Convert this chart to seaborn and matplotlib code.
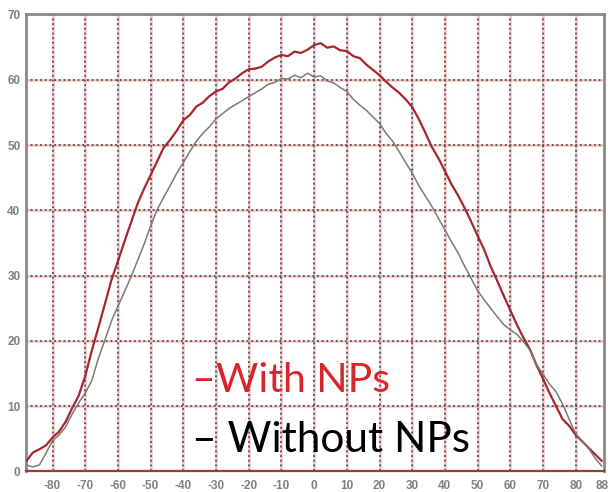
import numpy as np
import pandas as pd
import matplotlib
matplotlib.use("Agg")
import matplotlib.pyplot as plt
import seaborn as sns

angles = list(range(-88, 89, 2))

with_nps = [1.6, 2.9, 3.4, 4.0, 5.2, 6.1, 7.6, 9.7, 11.6, 14.6,
            18.5, 22.0, 25.6, 29.3, 32.2, 35.2, 38.1, 41.0, 43.3, 45.4,
            47.5, 49.6, 50.8, 52.2, 53.8, 54.6, 55.9, 56.5, 57.5, 58.2,
            58.6, 59.6, 60.2, 61.0, 61.6, 61.7, 62.0, 62.8, 63.4, 63.8,
            63.6, 64.3, 64.1, 64.6, 65.3, 65.6, 64.9, 65.1, 64.5, 64.4,
            63.6, 63.3, 62.3, 61.5, 60.7, 59.7, 58.8, 58.0, 57.0, 55.8,
            54.0, 51.9, 49.7, 48.0, 46.0, 44.0, 42.3, 40.4, 38.3, 36.1,
            34.0, 31.4, 29.2, 26.9, 24.7, 22.5, 20.5, 18.7, 16.3, 14.2,
            12.0, 10.0, 8.0, 7.0, 5.6, 4.6, 3.6, 2.6, 1.6]

without_nps = [1.0, 0.7, 1.0, 2.8, 4.7, 5.6, 6.8, 8.8, 10.5, 12.0,
               13.9, 17.3, 20.1, 23.0, 25.3, 27.5, 29.8, 32.3, 34.8, 37.6,
               40.1, 42.0, 43.8, 45.7, 47.3, 49.0, 50.6, 51.8, 52.8, 54.0,
               54.8, 55.6, 56.2, 56.8, 57.4, 58.0, 58.6, 59.3, 59.6, 60.2,
               60.1, 60.7, 60.3, 61.0, 60.4, 60.6, 59.8, 59.5, 58.8, 58.2,
               57.0, 56.1, 55.3, 54.3, 53.3, 51.8, 50.6, 49.0, 47.3, 45.7,
               43.8, 42.2, 40.6, 38.8, 37.0, 35.2, 33.5, 31.5, 29.6, 27.7,
               26.3, 25.0, 23.7, 22.5, 21.7, 21.0, 19.9, 18.6, 16.4, 14.9,
               13.4, 12.2, 10.3, 8.0, 5.8, 4.6, 3.5, 2.0, 0.8]

series_names = ["With NPs", "Without NPs"]
x_ticks = [-80, -70, -60, -50, -40, -30, -20, -10, 0, 10, 20, 30, 40, 50, 60, 70, 80, 88]
y_ticks = [0, 10, 20, 30, 40, 50, 60, 70]

df = pd.DataFrame({
    "angle": angles * 2,
    "value": with_nps + without_nps,
    "series": [series_names[0]] * len(angles) + [series_names[1]] * len(angles),
})

sns.set_style("white")
plt.rcParams["axes.unicode_minus"] = False

fig = plt.figure(figsize=(6.08, 4.92), dpi=100)
ax = fig.add_axes([0.0428, 0.0417, 0.9514, 0.929])

# grid: pink underlay + dark dotted
grid_x = [-80, -70, -60, -50, -40, -30, -20, -10, 0, 10, 20, 30, 40, 50, 60, 70, 80]
grid_y = [10, 20, 30, 40, 50, 60]
for gx in grid_x:
    ax.axvline(gx, color="#f5c4c4", lw=1.8, zorder=0.5)
    ax.axvline(gx, color="#505050", lw=1.3, ls=(0, (1.0, 1.6)), zorder=0.6)
for gy in grid_y:
    ax.axhline(gy, color="#f5c4c4", lw=1.8, zorder=0.5)
    ax.axhline(gy, color="#505050", lw=1.3, ls=(0, (1.0, 1.6)), zorder=0.6)

sns.lineplot(data=df, x="angle", y="value", hue="series",
             palette={"With NPs": "#a8262b", "Without NPs": "#7a7a7a"},
             ax=ax, legend=False, estimator=None, sort=False)
for ln, lw in zip(ax.lines[-2:], [1.6, 1.1]):
    ln.set_linewidth(lw)
    ln.set_zorder(3)

ax.set_xlim(-88.1, 88.8)
ax.set_ylim(0, 70)
ax.set_xticks(x_ticks)
ax.set_xticklabels([str(t) for t in x_ticks])
ax.set_yticks(y_ticks)
ax.set_yticklabels([str(t) for t in y_ticks])
ax.set_xlabel("")
ax.set_ylabel("")
ax.tick_params(axis="both", length=0, labelsize=8.5, labelcolor="#808080")
ax.tick_params(axis="x", pad=6)
ax.tick_params(axis="y", pad=4)
for lab in ax.get_xticklabels() + ax.get_yticklabels():
    lab.set_fontfamily("Liberation Sans")
    lab.set_fontweight("bold")

for side in ["left", "top", "right"]:
    ax.spines[side].set_color("#8a8a8a")
    ax.spines[side].set_linewidth(2.0)
ax.spines["bottom"].set_color("#a03a3a")
ax.spines["bottom"].set_linewidth(1.6)

fig.text(192 / 608, 1 - 391.7 / 492, "\u2013With NPs", color="#d8262c",
         fontsize=29.5, family=["Lato", "DejaVu Sans"], va="baseline", ha="left")
fig.text(192 / 608, 1 - 451.7 / 492, "\u2013 Without NPs", color="#000000",
         fontsize=30.5, family=["Lato", "DejaVu Sans"], va="baseline", ha="left")

fig.savefig("out.png", dpi=100)
